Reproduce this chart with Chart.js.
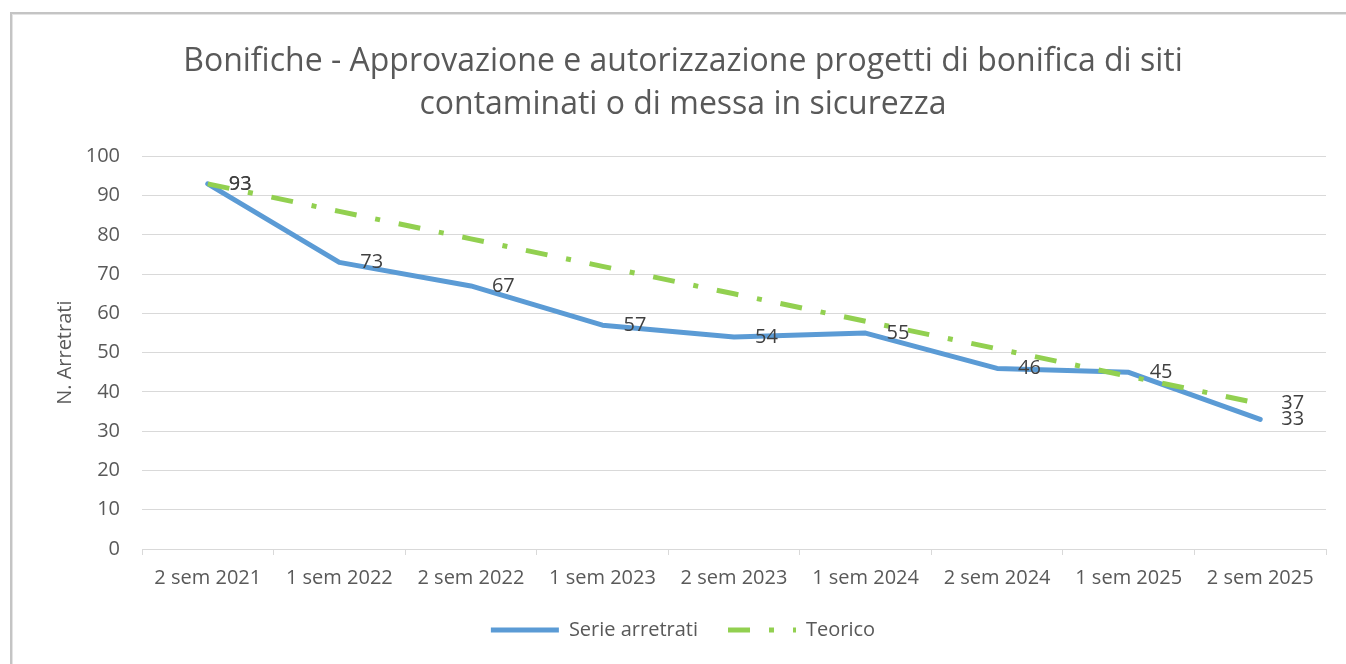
<!DOCTYPE html>
<html>
<head>
<meta charset="utf-8">
<script src="https://cdn.jsdelivr.net/npm/chart.js@4.4.1/dist/chart.umd.min.js"></script>
<style>
  html, body { margin: 0; padding: 0; background: #fff; overflow: hidden; }
  #frame { position: absolute; left: 10px; top: 12px; width: 1346px; height: 664px;
           border-left: 2px solid #c4c4c4; border-top: 2px solid #c4c4c4;
           box-shadow: inset 1px 1px 0 #e4e4e4; }
  #myChart { position: absolute; left: 0; top: 0; }
</style>
</head>
<body>
<div id="frame"></div>
<canvas id="myChart" width="1346" height="664"></canvas>
<script>
var categories = ['2 sem 2021', '1 sem 2022', '2 sem 2022', '1 sem 2023', '2 sem 2023', '1 sem 2024', '2 sem 2024', '1 sem 2025', '2 sem 2025'];
var arretrati = [93, 73, 67, 57, 54, 55, 46, 45, 33];
var teorico = [93, 86, 79, 72, 65, 58, 51, 44, 37];
// which points carry a value label
var arretratiLabels = [0, 1, 2, 3, 4, 5, 6, 7, 8];
var teoricoLabels = [0, 8];

var FONT = '"Open Sans", sans-serif';
var GREY = '#595959';

// simple value labels to the right of each point
var valueLabels = {
    id: 'valueLabels',
    afterDatasetsDraw: function (chart) {
        var ctx = chart.ctx;
        ctx.save();
        ctx.font = '20px ' + FONT;
        ctx.fillStyle = '#404040';
        ctx.textBaseline = 'middle';
        ctx.textAlign = 'left';
        chart.data.datasets.forEach(function (ds, i) {
            var meta = chart.getDatasetMeta(i);
            meta.data.forEach(function (pt, j) {
                if (ds.labelIdx.indexOf(j) < 0) return;
                ctx.fillText(ds.data[j], pt.x + 21, pt.y);
            });
        });
        ctx.restore();
    }
};

var ctx = document.getElementById('myChart').getContext('2d');
var chart = new Chart(ctx, {
    type: 'line',
    data: {
        labels: categories,
        datasets: [{
            label: 'Serie arretrati',
            data: arretrati,
            labelIdx: arretratiLabels,
            borderColor: '#5b9bd5',
            backgroundColor: '#5b9bd5',
            borderWidth: 5,
            pointRadius: 0,
            tension: 0,
            borderCapStyle: 'round',
            borderJoinStyle: 'round',
            order: 1
        }, {
            label: 'Teorico',
            data: teorico,
            labelIdx: teoricoLabels,
            borderColor: '#92d050',
            backgroundColor: '#92d050',
            borderWidth: 5,
            borderDash: [22, 19, 5, 19],
            pointRadius: 0,
            tension: 0,
            order: 0
        }]
    },
    plugins: [valueLabels],
    options: {
        responsive: false,
        animation: false,
        devicePixelRatio: 1,
        layout: { padding: { left: 40, right: 20, top: 40, bottom: 14 } },
        plugins: {
            title: {
                display: true,
                text: ['Bonifiche - Approvazione e autorizzazione progetti di bonifica di siti', 'contaminati o di messa in sicurezza'],
                color: GREY,
                font: { family: FONT, size: 32, weight: 'normal', lineHeight: 1.35 },
                padding: { top: 0, bottom: 30 }
            },
            legend: {
                position: 'bottom',
                labels: {
                    color: GREY,
                    font: { family: FONT, size: 20 },
                    usePointStyle: true,
                    pointStyle: 'line',
                    pointStyleWidth: 68,
                    padding: 30,
                    sort: function (a, b) { return a.datasetIndex - b.datasetIndex; },
                    generateLabels: function (chart) {
                        var items = Chart.defaults.plugins.legend.labels.generateLabels(chart);
                        items.forEach(function (it) {
                            var ds = chart.data.datasets[it.datasetIndex];
                            it.lineDash = ds.borderDash || [];
                            it.lineWidth = ds.borderWidth;
                            it.lineCap = 'butt';
                            it.pointStyle = 'line';
                        });
                        return items;
                    }
                }
            },
            tooltip: { enabled: false }
        },
        scales: {
            x: {
                offset: true,
                grid: { offset: true, drawOnChartArea: false, drawTicks: true, tickLength: 6, color: '#d9d9d9' },
                border: { color: '#d9d9d9' },
                ticks: { color: GREY, font: { family: FONT, size: 20 }, padding: 11, maxRotation: 0 },
                afterFit: function (s) { s.height = 41; }
            },
            y: {
                min: 0,
                max: 100,
                ticks: { stepSize: 10, color: GREY, font: { family: FONT, size: 20 }, padding: 22 },
                grid: { color: '#d9d9d9', drawTicks: false, tickLength: 0 },
                border: { display: false },
                title: {
                    display: true,
                    text: 'N. Arretrati',
                    color: GREY,
                    font: { family: FONT, size: 20 },
                    padding: { top: 13, bottom: 0 }
                },
                afterFit: function (s) { s.width = 102; }
            }
        }
    }
});
</script>
</body>
</html>
